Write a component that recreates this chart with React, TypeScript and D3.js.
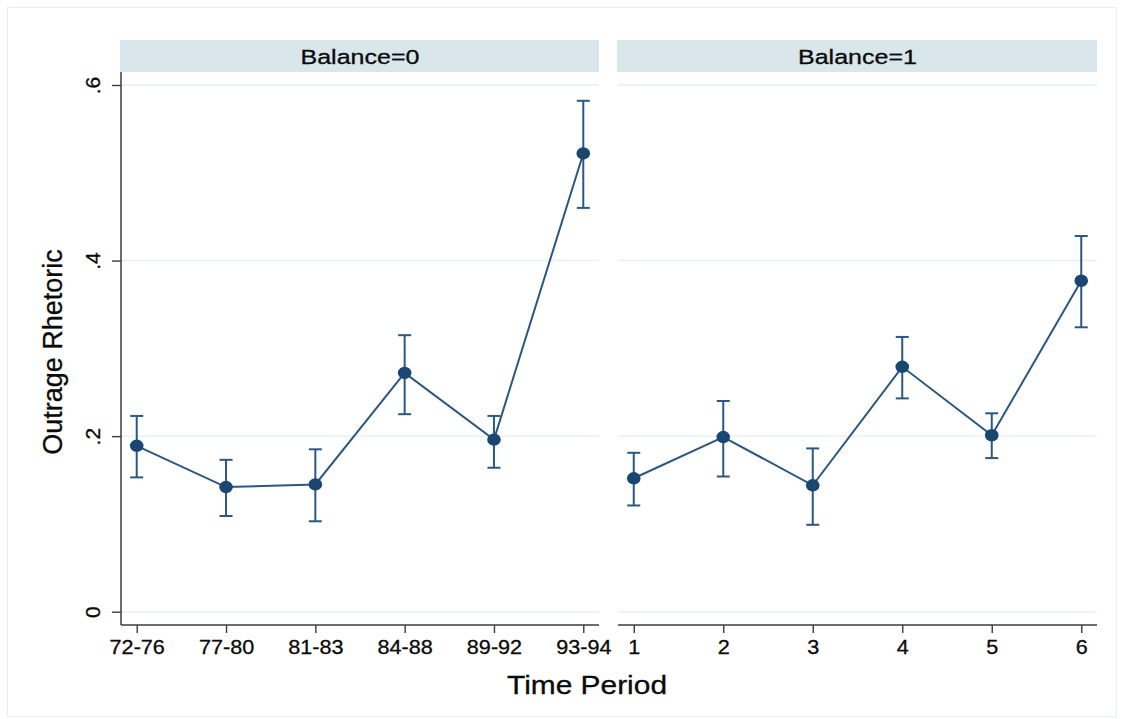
import React, { useEffect, useRef } from "react";
import * as d3 from "d3";

// ---- Data ----
const periods0 = ["72-76", "77-80", "81-83", "84-88", "89-92", "93-94"];
const est0 = [0.189, 0.142, 0.145, 0.272, 0.196, 0.522];
const lo0 = [0.153, 0.109, 0.103, 0.225, 0.164, 0.46];
const hi0 = [0.223, 0.173, 0.185, 0.315, 0.223, 0.582];

const periods1 = ["1", "2", "3", "4", "5", "6"];
const est1 = [0.152, 0.199, 0.144, 0.279, 0.201, 0.377];
const lo1 = [0.121, 0.154, 0.099, 0.243, 0.175, 0.324];
const hi1 = [0.181, 0.24, 0.186, 0.313, 0.226, 0.428];

const yTicks = [0, 0.2, 0.4, 0.6];
const yTickLabels = ["0", ".2", ".4", ".6"];
const panelTitles = ["Balance=0", "Balance=1"];
const yTitle = "Outrage Rhetoric";
const xTitle = "Time Period";

const W = 1122;
const H = 719;
const FONT = "'Liberation Sans', Arial, Helvetica, sans-serif";
const NAVY = "#1a476f";
const LINEC = "#2a5883";
const GRID = "#e9f1f2";
const STRIP = "#d9e6ec";
const AXIS = "#3c3c3c";
const TXT = "#0a0a0a";

const yTop = 85;
const yZero = 611.7;
const axisY = 625;
const stripTop = 40;
const stripBot = 72;

const panels = [
  { x0: 121, x1: 599, cats: periods0, est: est0, lo: lo0, hi: hi0, title: panelTitles[0] },
  { x0: 618, x1: 1097, cats: periods1, est: est1, lo: lo1, hi: hi1, title: panelTitles[1] },
];

export default function App() {
  const yAxisRef = useRef<SVGGElement>(null);
  const xAxisRefs = [useRef<SVGGElement>(null), useRef<SVGGElement>(null)];

  const y = d3.scaleLinear().domain([0, 0.6]).range([yZero, yTop]);
  const xs = panels.map((p) =>
    d3.scalePoint<string>().domain(p.cats).range([p.x0, p.x1]).padding(0.176)
  );

  useEffect(() => {
    if (yAxisRef.current) {
      const g = d3.select(yAxisRef.current);
      g.selectAll("*").remove();
      g.call(
        d3
          .axisLeft(y)
          .tickValues(yTicks)
          .tickSize(9)
          .tickSizeOuter(0)
          .tickFormat((d, i) => yTickLabels[i])
      );
      g.select(".domain").remove();
      g.selectAll(".tick line").attr("stroke", AXIS).attr("stroke-width", 1.4);
      g.selectAll(".tick text")
        .attr("x", 0)
        .attr("dy", 0)
        .attr("text-anchor", "middle")
        .attr("transform", "translate(-21,0) rotate(-90)")
        .attr("fill", TXT)
        .attr("stroke", TXT)
        .attr("stroke-width", 0.3)
        .style("font-family", FONT)
        .style("font-size", "21px");
    }
    xAxisRefs.forEach((ref, k) => {
      if (!ref.current) return;
      const g = d3.select(ref.current);
      g.selectAll("*").remove();
      g.call(d3.axisBottom(xs[k]).tickSize(8).tickSizeOuter(0));
      g.select(".domain").remove();
      g.selectAll(".tick line").attr("stroke", AXIS).attr("stroke-width", 1.4);
      g.selectAll<SVGTextElement, string>(".tick text")
        .attr("y", 29)
        .attr("dy", 0)
        .attr("fill", TXT)
        .attr("stroke", TXT)
        .attr("stroke-width", 0.3)
        .style("font-family", FONT)
        .style("font-size", "20px")
        .each(function () {
          const len = this.getComputedTextLength();
          d3.select(this)
            .attr("textLength", len * 1.08)
            .attr("lengthAdjust", "spacingAndGlyphs");
        });
    });
  }, []);

  return (
    <svg
      width={W}
      height={H}
      style={{ position: "absolute", left: 0, top: 0, background: "#fff" }}
    >
      <rect x={0} y={0} width={W} height={H} fill="#fff" />
      <rect x={7.5} y={7.5} width={1109} height={709} fill="none" stroke="#e9efef" strokeWidth={1} />

      {panels.map((p, k) => {
        const x = xs[k];
        const line = d3
          .line<number>()
          .x((_, i) => x(p.cats[i]) as number)
          .y((d) => y(d));
        return (
          <g key={k}>
            {/* strip */}
            <rect
              x={p.x0 - 1}
              y={stripTop}
              width={p.x1 - p.x0 + 1}
              height={stripBot - stripTop}
              fill={STRIP}
            />
            <text
              x={(p.x0 + p.x1) / 2}
              y={64}
              textAnchor="middle"
              fontFamily={FONT}
              fontSize={20.5}
              textLength={119}
              lengthAdjust="spacingAndGlyphs"
              fill={TXT}
              stroke={TXT}
              strokeWidth={0.3}
            >
              {p.title}
            </text>
            {/* grid */}
            {yTicks.map((t) => (
              <line
                key={t}
                x1={p.x0}
                x2={p.x1}
                y1={y(t)}
                y2={y(t)}
                stroke={GRID}
                strokeWidth={1.5}
              />
            ))}
            {/* x axis line */}
            <line x1={p.x0} x2={p.x1} y1={axisY} y2={axisY} stroke={AXIS} strokeWidth={1.5} />
            <g ref={xAxisRefs[k]} transform={`translate(0,${axisY})`} />
            {/* error bars */}
            {p.cats.map((c, i) => {
              const cx = x(c) as number;
              return (
                <g key={c} stroke={LINEC} strokeWidth={2}>
                  <line x1={cx} x2={cx} y1={y(p.lo[i])} y2={y(p.hi[i])} />
                  <line x1={cx - 6.5} x2={cx + 6.5} y1={y(p.lo[i])} y2={y(p.lo[i])} />
                  <line x1={cx - 6.5} x2={cx + 6.5} y1={y(p.hi[i])} y2={y(p.hi[i])} />
                </g>
              );
            })}
            {/* connected line */}
            <path d={line(p.est) || ""} fill="none" stroke={LINEC} strokeWidth={2} />
            {p.est.map((v, i) => (
              <ellipse
                key={i}
                cx={x(p.cats[i]) as number}
                cy={y(v)}
                rx={6.8}
                ry={6.2}
                fill={NAVY}
              />
            ))}
          </g>
        );
      })}

      {/* y axis */}
      <line x1={121} x2={121} y1={stripBot} y2={axisY} stroke={AXIS} strokeWidth={1.5} />
      <g ref={yAxisRef} transform="translate(121,0)" />

      {/* titles */}
      <text
        transform={`translate(62,352) rotate(-90)`}
        textAnchor="middle"
        fontFamily={FONT}
        fontSize={27}
        fill={TXT}
        stroke={TXT}
        strokeWidth={0.3}
      >
        {yTitle}
      </text>
      <text
        x={587}
        y={694}
        textAnchor="middle"
        fontFamily={FONT}
        fontSize={25.5}
        textLength={160}
        lengthAdjust="spacingAndGlyphs"
        fill={TXT}
        stroke={TXT}
        strokeWidth={0.3}
      >
        {xTitle}
      </text>
    </svg>
  );
}
